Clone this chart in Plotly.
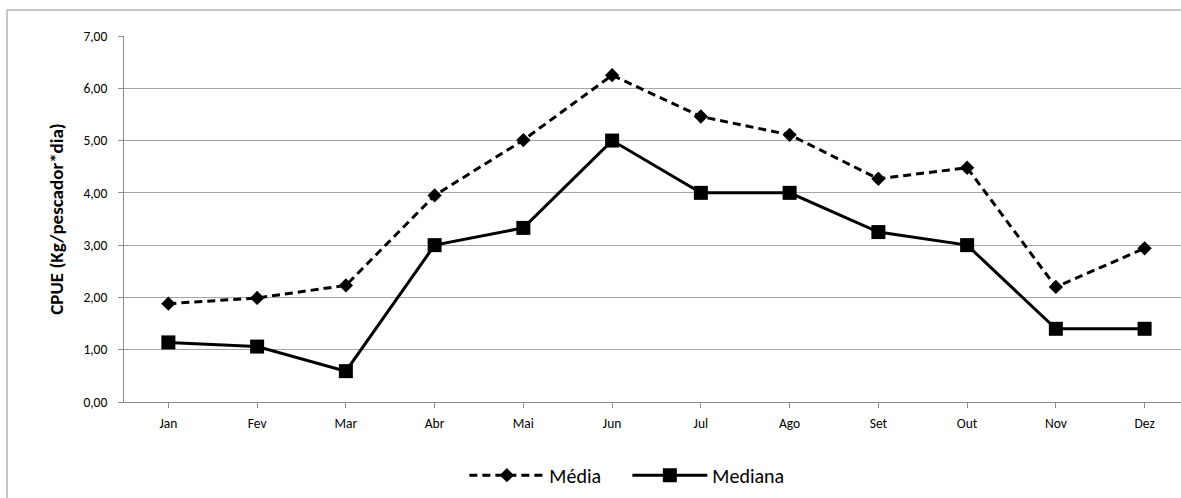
import plotly.graph_objects as go

meses = ["Jan", "Fev", "Mar", "Abr", "Mai", "Jun", "Jul", "Ago", "Set", "Out", "Nov", "Dez"]
media = [1.88, 1.99, 2.23, 3.95, 5.01, 6.25, 5.46, 5.11, 4.27, 4.48, 2.20, 2.94]
mediana = [1.14, 1.06, 0.59, 3.00, 3.33, 5.00, 4.00, 4.00, 3.25, 3.00, 1.40, 1.40]
y_ticks = [0, 1, 2, 3, 4, 5, 6, 7]
y_tick_text = ["0,00", "1,00", "2,00", "3,00", "4,00", "5,00", "6,00", "7,00"]

FONT = "Carlito, Lato, Calibri, sans-serif"
x_idx = list(range(len(meses)))

fig = go.Figure()
fig.add_trace(go.Scatter(
    x=x_idx, y=media, name="Média", mode="lines+markers",
    line=dict(color="black", width=3, dash="8px,5px"),
    marker=dict(symbol="diamond", size=11, color="black"),
))
fig.add_trace(go.Scatter(
    x=x_idx, y=mediana, name="Mediana", mode="lines+markers",
    line=dict(color="black", width=3),
    marker=dict(symbol="square", size=14, color="black"),
))

# chart frame (top and left edges)
frame = dict(color="#8c8c8c", width=1)
fig.add_shape(type="line", xref="paper", yref="paper",
              x0=-0.1107, x1=1.01, y0=1.071, y1=1.071, line=frame)
fig.add_shape(type="line", xref="paper", yref="paper",
              x0=-0.1107, x1=-0.1107, y0=1.071, y1=-0.35, line=frame)

fig.update_layout(
    width=1181, height=498,
    margin=dict(l=124, r=0, t=36, b=96),
    paper_bgcolor="white", plot_bgcolor="white",
    font=dict(family=FONT, color="black"),
    showlegend=True,
    legend=dict(orientation="h", x=0.322, xanchor="left", y=-0.2, yanchor="middle",
                font=dict(size=20, family=FONT), itemwidth=75, entrywidth=73,
                traceorder="normal"),
    xaxis=dict(
        range=[-0.5, 11.41], tickmode="array", tickvals=x_idx, ticktext=meses,
        showgrid=False, showline=True, linecolor="#8c8c8c", linewidth=1,
        ticks="outside", tickson="boundaries", ticklen=5, tickcolor="#8c8c8c",
        tickfont=dict(size=13.5, family=FONT), ticklabelstandoff=4,
        zeroline=False, fixedrange=True,
    ),
    yaxis=dict(
        range=[0, 7], tickmode="array", tickvals=y_ticks, ticktext=y_tick_text,
        showgrid=True, gridcolor="#a6a6a6", gridwidth=1,
        showline=True, linecolor="#8c8c8c", linewidth=1,
        ticks="outside", ticklen=5, tickcolor="#8c8c8c",
        tickfont=dict(size=13.5, family=FONT), ticklabelstandoff=8,
        zeroline=False,
        title=dict(text="<b>CPUE (Kg/pescador*dia)</b>", font=dict(size=19, family=FONT),
                   standoff=14),
    ),
)

fig.write_html("out.html")
